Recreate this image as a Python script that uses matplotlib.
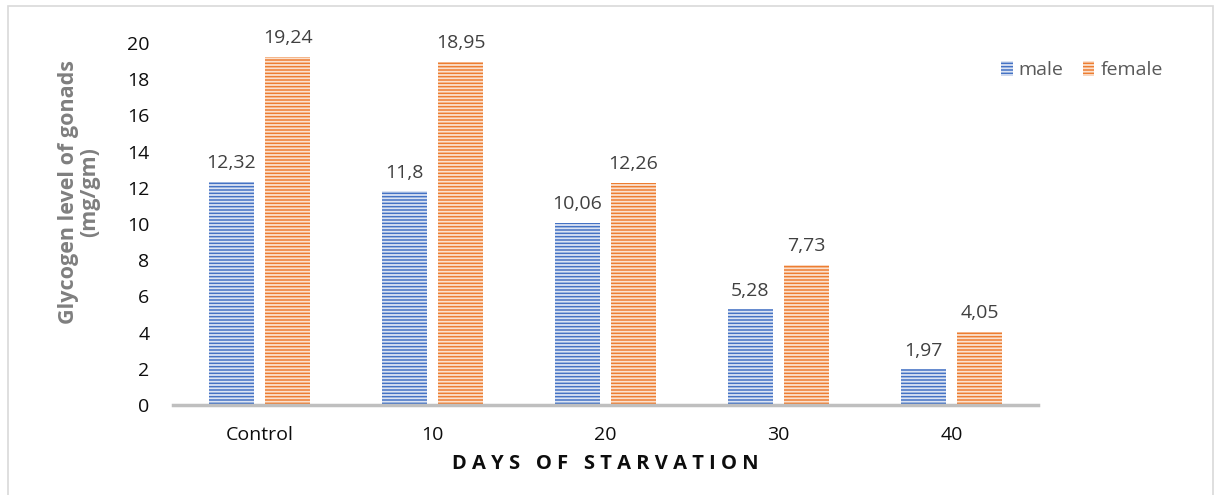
import matplotlib.pyplot as plt
import numpy as np
from matplotlib.patches import Rectangle

plt.rcParams["font.family"] = ["Open Sans", "DejaVu Sans"]
plt.rcParams["hatch.linewidth"] = 1.3

# Glycogen level of gonads over days of starvation
categories = ["Control", "10", "20", "30", "40"]
male = [12.32, 11.8, 10.06, 5.28, 1.97]
female = [19.24, 18.95, 12.26, 7.73, 4.05]
male_labels = ["12,32", "11,8", "10,06", "5,28", "1,97"]
female_labels = ["19,24", "18,95", "12,26", "7,73", "4,05"]

BLUE = "#4472C4"
ORANGE = "#ED7D31"

fig = plt.figure(figsize=(12.16, 4.95), dpi=100)
fig.patches.append(Rectangle((8 / 1216, -0.01), 1205 / 1216, 0.998, transform=fig.transFigure,
                             fill=False, edgecolor="#d9d9d9", linewidth=1.2))
ax = fig.add_axes([0.1423, 0.1818, 0.7113, 0.7313])

x = np.arange(len(categories))
width = 0.26
offset = 0.162

bars_m = ax.bar(x - offset, male, width, color=BLUE, edgecolor="#dce4f3", linewidth=0,
                hatch="-----", label="male")
bars_f = ax.bar(x + offset, female, width, color=ORANGE, edgecolor="#fbe1cf", linewidth=0,
                hatch="-----", label="female")

for bars, labels in ((bars_m, male_labels), (bars_f, female_labels)):
    for b, lab in zip(bars, labels):
        ax.annotate(lab, (b.get_x() + b.get_width() / 2, b.get_height()),
                    xytext=(0, 7), textcoords="offset points", ha="center", va="bottom",
                    fontsize=14, color="#404040")

ax.set_xlim(-0.5, len(categories) - 0.5)
ax.set_ylim(0, 20)
ax.set_yticks(np.arange(0, 21, 2))
ax.set_xticks(x)
ax.set_xticklabels(categories)
ax.tick_params(axis="y", length=0, pad=17, labelsize=14, labelcolor="#0d0d0d")
ax.tick_params(axis="x", length=0, pad=15, labelsize=14, labelcolor="#0d0d0d")

for side in ("top", "right", "left"):
    ax.spines[side].set_visible(False)
ax.spines["bottom"].set_color("#bfbfbf")
ax.spines["bottom"].set_linewidth(2.5)

ax.set_ylabel("Glycogen level of gonads\n(mg/gm)", fontsize=15.5, fontweight="bold",
              color="#7f7f7f", linespacing=1.0)
ax.yaxis.set_label_coords(-0.084, 0.588)
ax.set_xlabel("D A Y S   O F   S T A R V A T I O N", fontsize=14.5, fontweight="bold",
              color="#0d0d0d", labelpad=7)

ax.legend(loc="upper left", bbox_to_anchor=(0.937, 1.0), frameon=False, ncol=2,
          fontsize=14, handlelength=0.6, handleheight=0.85, handletextpad=0.3,
          columnspacing=1.0, labelcolor="#595959")

fig.savefig("out.png", dpi=100)
